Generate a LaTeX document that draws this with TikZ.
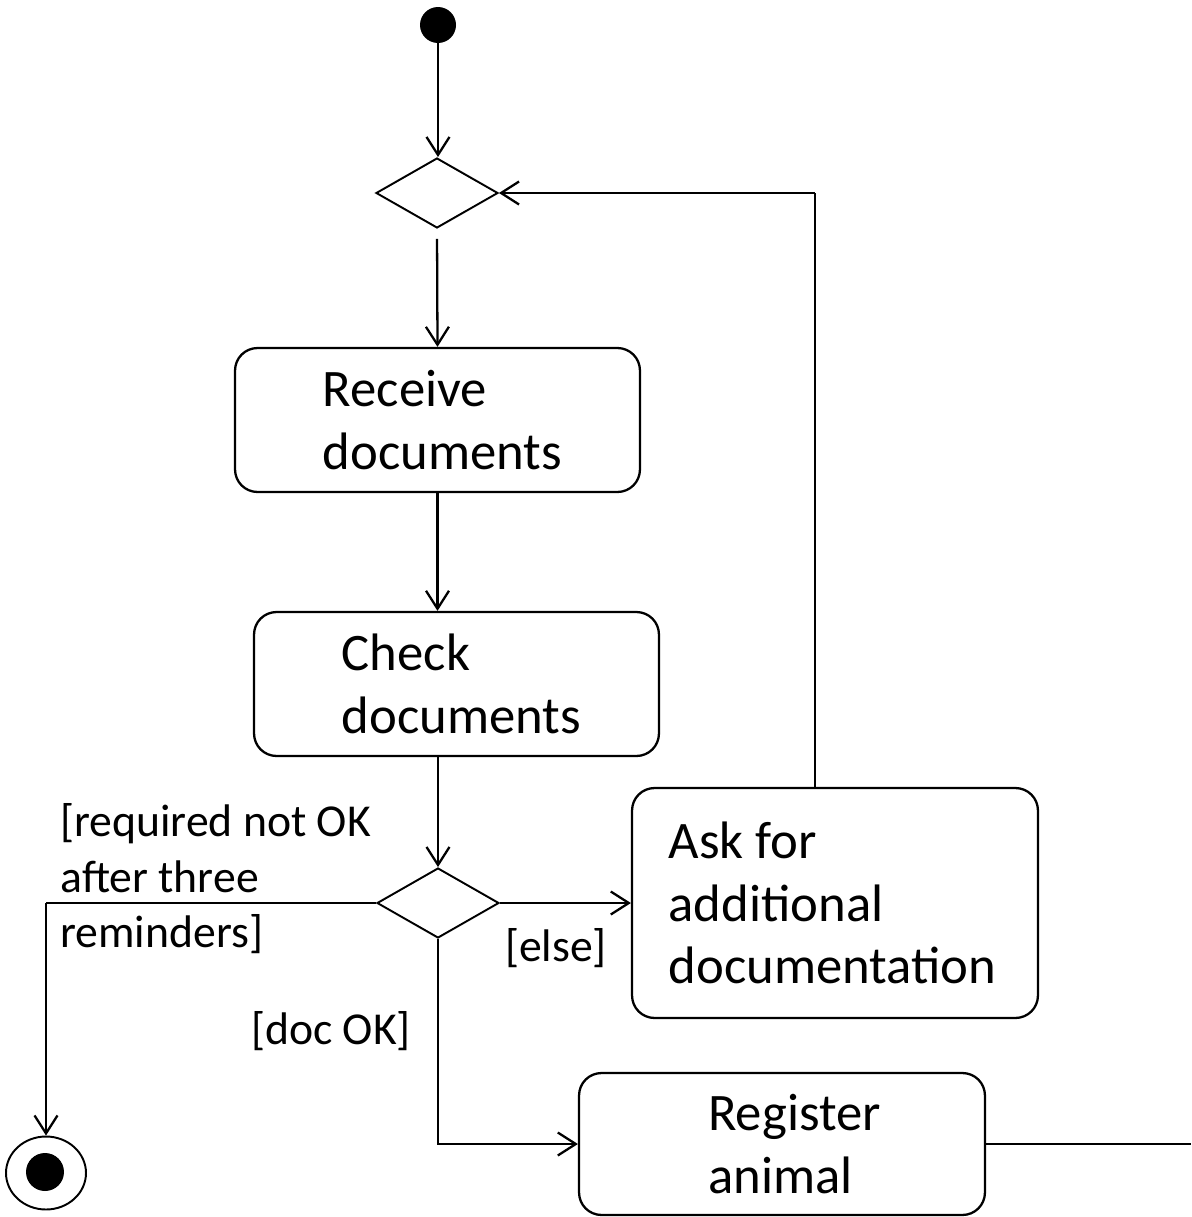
\documentclass[tikz,border=0pt]{standalone}
\usepackage{fontspec}
\setmainfont{Carlito}
\usetikzlibrary{shapes.geometric,arrows.meta}
\begin{document}
\begin{tikzpicture}[x=0.02cm,y=-0.02cm,
  actbox/.style={draw,line width=1.3pt,rounded corners=0.45cm,align=left,
    font=\fontsize{30}{35.7}\selectfont,inner sep=0pt},
  dec/.style={draw,diamond,line width=1.1pt,minimum width=2.44cm,minimum height=1.4cm,inner sep=0pt},
  flow/.style={line width=1.3pt,-{Straight Barb[length=0.36cm,width=0.46cm,line width=1.3pt]}},
  thin line/.style={line width=0.7pt},
  lbl/.style={font=\fontsize{26}{31.7}\selectfont,align=left,inner sep=0pt}]
\useasboundingbox (0,0) rectangle (1191,1217);

\node[circle,fill=black,minimum size=0.72cm,inner sep=0pt] (start) at (438,25) {};
\node[dec] (d1) at (437,193) {};
\node[actbox,minimum width=8.1cm,minimum height=2.88cm] (recv) at (437.5,420) {Receive\\documents\hspace*{-0.2cm}};
\node[actbox,minimum width=8.1cm,minimum height=2.88cm] (chk) at (456.5,684) {Check\\documents\hspace*{-0.2cm}};
\node[dec] (d2) at (438,903) {};
\node[actbox,minimum width=8.12cm,minimum height=4.6cm] (ask) at (835,903) {Ask for\\additional\\documentation\hspace*{0.1cm}};
\node[actbox,minimum width=8.12cm,minimum height=2.84cm] (reg) at (782,1144) {Register\hspace*{-0.5cm}\\animal};

\node[ellipse,draw,line width=1.1pt,minimum width=1.6cm,minimum height=1.46cm,inner sep=0pt] (end) at (46,1173) {};
\node[circle,fill=black,minimum size=0.76cm,inner sep=0pt] (endin) at (45,1172) {};

\coordinate (up) at (815,193);
\coordinate (out) at (1191,1144);

\draw[flow] (start.south) -- (start.south |- d1.north);
\draw[flow,shorten <=0.2cm] (d1.south) -- (recv.north);
\draw[flow] (recv.south) -- (recv.south |- chk.north);
\draw[flow] (d2.north |- chk.south) -- (d2.north);
\draw[thin line] (d2.west) -- (end.north |- d2.west);
\draw[flow] (end.north |- d2.west) -- (end.north);
\draw[flow] (d2.east) -- (ask.west);
\draw[thin line] (up |- ask.north) -- (up);
\draw[flow] (up) -- (d1.east);
\draw[flow] (d2.south) |- (reg.west);
\draw[thin line] (reg.east) -- (out);

\node[lbl,anchor=north west] (lreq) at (60,803) {[required not OK\\after three\\reminders]};
\node[lbl] (lelse) at (556,948) {[else]};
\node[lbl] (ldoc) at (331,1031) {[doc OK]};
\end{tikzpicture}
\end{document}
